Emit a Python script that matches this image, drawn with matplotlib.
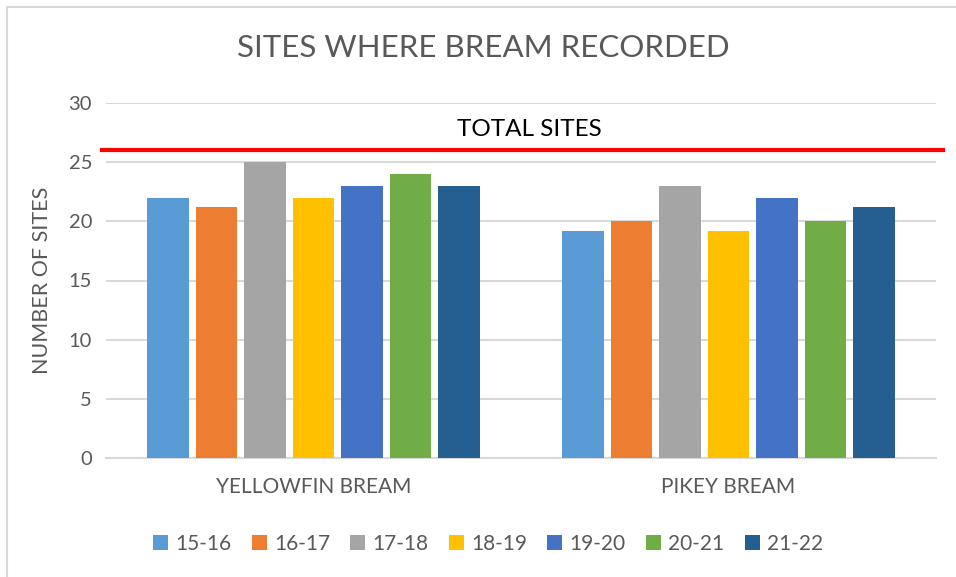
import numpy as np
import matplotlib.pyplot as plt
from matplotlib.patches import Rectangle

plt.rcParams['font.family'] = ['Lato', 'DejaVu Sans']

species = ["YELLOWFIN BREAM", "PIKEY BREAM"]
seasons = ["15-16", "16-17", "17-18", "18-19", "19-20", "20-21", "21-22"]
sites_1516 = [22, 19.2]
sites_1617 = [21.2, 20]
sites_1718 = [25, 23]
sites_1819 = [22, 19.2]
sites_1920 = [23, 22]
sites_2021 = [24, 20]
sites_2122 = [23, 21.2]
total_sites = 26

series = [sites_1516, sites_1617, sites_1718, sites_1819, sites_1920, sites_2021, sites_2122]
colors = ["#5b9bd5", "#ed7d31", "#a5a5a5", "#ffc000", "#4472c4", "#70ad47", "#255e91"]
grey = "#595959"

W, H = 956, 577
fig = plt.figure(figsize=(W / 100, H / 100), dpi=100)
ax = fig.add_axes([106 / W, 1 - 458 / H, 830 / W, 355 / H])

x = np.arange(len(species))
slot = 0.1169
width = 0.099
for i, (vals, c, lab) in enumerate(zip(series, colors, seasons)):
    ax.bar(x + (i - 3) * slot, vals, width, color=c, label=lab, zorder=3)

ax.set_xlim(-0.5, 1.5)
ax.set_ylim(0, 30)
ax.set_yticks(range(0, 31, 5))
ax.grid(axis="y", color="#d9d9d9", linewidth=1.5, zorder=0)
for s in ["top", "right", "left"]:
    ax.spines[s].set_visible(False)
ax.spines["bottom"].set_color("#d9d9d9")
ax.spines["bottom"].set_linewidth(1.5)
ax.tick_params(length=0, labelsize=14.5, labelcolor=grey, pad=10)
ax.tick_params(axis="x", labelsize=15, pad=21)
ax.set_xticks(x)
ax.set_xticklabels(species, va="center")

# total sites line
ax.axhline(total_sites, xmin=-0.005, xmax=1.008, color="#ff0000", linewidth=3, clip_on=False, zorder=4)
ax.text(0.51, 27.8, "TOTAL SITES", ha="center", va="center", fontsize=17.5, color="black",
        transform=ax.get_yaxis_transform())

ax.set_ylabel("NUMBER OF SITES", fontsize=15.5, color=grey, labelpad=12)
fig.text(483 / W, 1 - 48 / H, "SITES WHERE BREAM RECORDED", ha="center", va="center", fontsize=22.5, color=grey)

ax.legend(loc="center", bbox_to_anchor=(((488 - 106) / 830), (458 - 544) / 355), ncol=7, frameon=False,
          fontsize=15, labelcolor=grey, handlelength=0.72, handleheight=0.72, handletextpad=0.35,
          columnspacing=0.97)

# chart border
fig.patches.append(Rectangle((7 / W, -0.1), 1.2, 1 - 7 / H + 0.1, transform=fig.transFigure,
                             fill=False, edgecolor="#d9d9d9", linewidth=1.5))

fig.savefig("out.png", dpi=100)
